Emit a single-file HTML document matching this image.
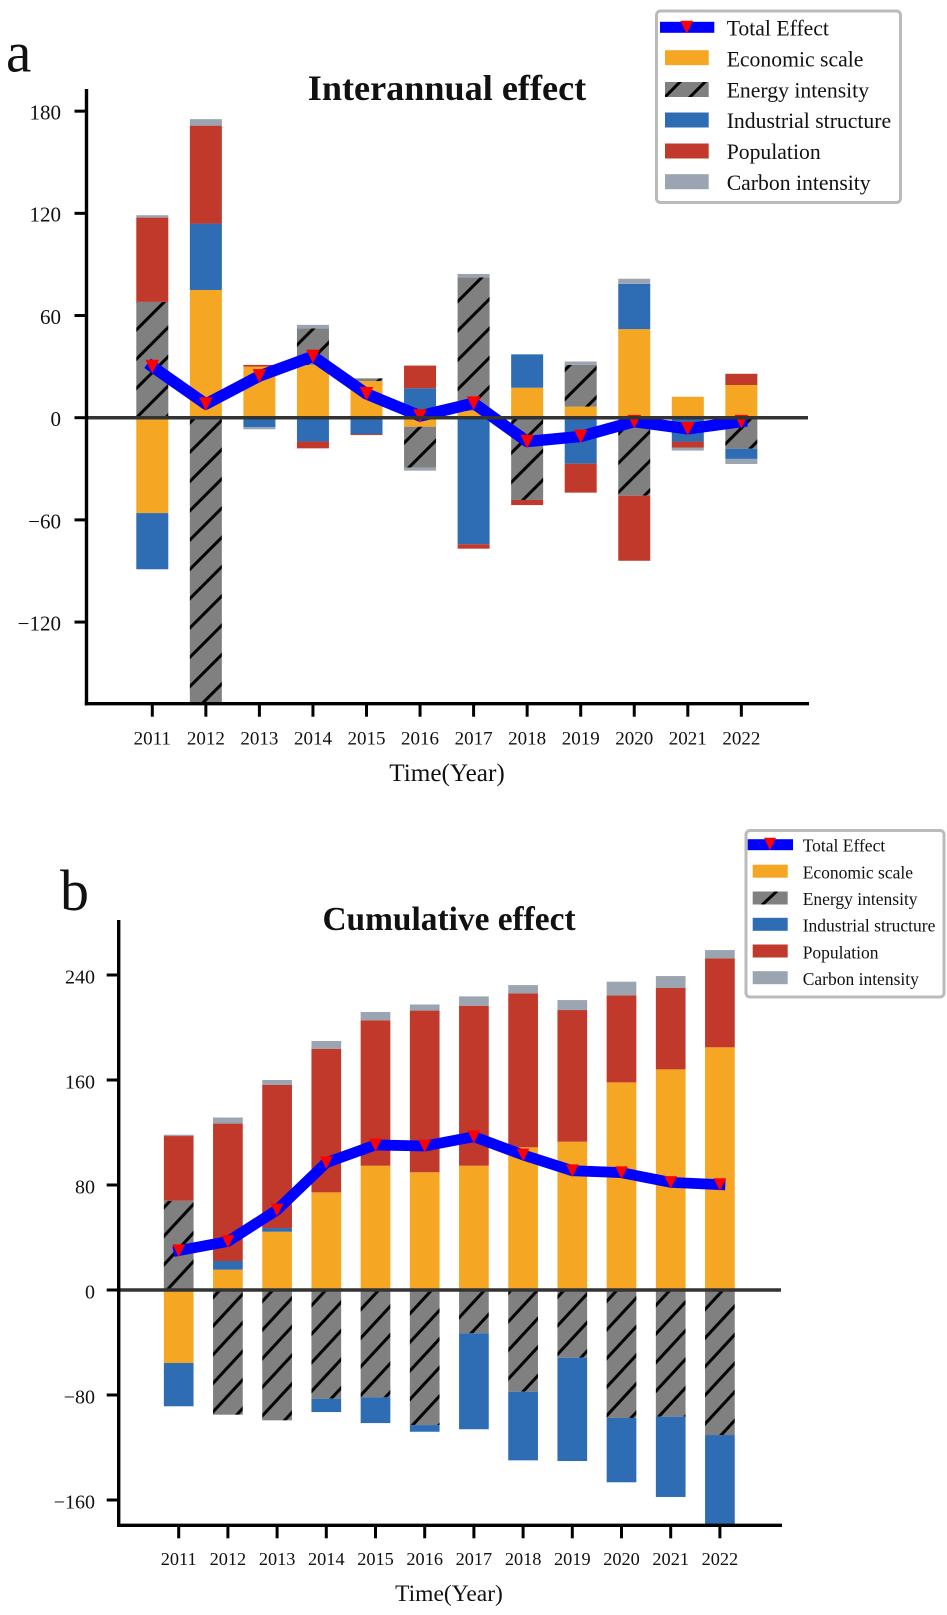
<!DOCTYPE html>
<html lang="en">
<head>
<meta charset="utf-8">
<title>Interannual and cumulative effect</title>
<style>
html,body{margin:0;padding:0;background:#fff;}
svg{display:block;font-family:"Liberation Serif","Times New Roman",serif;fill:#111;}
</style>
</head>
<body>
<svg id="figure" xmlns="http://www.w3.org/2000/svg" width="947" height="1615" viewBox="0 0 947 1615">
  <defs>
    <pattern id="hatch-a" patternUnits="userSpaceOnUse" width="29.3" height="29.3" x="26.7" y="0">
      <rect width="29.3" height="29.3" fill="#808080"/>
      <g stroke="#000" stroke-width="3">
        <line x1="-29.3" y1="58.6" x2="58.6" y2="-29.3"/>
        <line x1="-58.6" y1="58.6" x2="29.3" y2="-29.3"/>
        <line x1="0" y1="58.6" x2="87.9" y2="-29.3"/>
      </g>
    </pattern>
    <pattern id="hatch-b" patternUnits="userSpaceOnUse" width="26.48" height="28.6" x="10.9" y="0">
      <rect width="26.48" height="28.6" fill="#808080"/>
      <g stroke="#000" stroke-width="3">
        <line x1="-26.48" y1="57.2" x2="52.96" y2="-28.6"/>
        <line x1="-52.96" y1="57.2" x2="26.48" y2="-28.6"/>
        <line x1="0" y1="57.2" x2="79.44" y2="-28.6"/>
      </g>
    </pattern>
    <clipPath id="clip-a"><rect x="86" y="85" width="730" height="618"/></clipPath>
    <clipPath id="clip-b"><rect x="118" y="915" width="670" height="609.5"/></clipPath>
    <clipPath id="legend-a-hatch-clip"><rect x="665" y="82" width="43.7" height="15"/></clipPath>
    <clipPath id="legend-b-hatch-clip"><rect x="752.7" y="891.5" width="35" height="13"/></clipPath>
  </defs>

  <text x="6" y="71.5" font-size="57">a</text>
  <text x="447" y="100" font-size="36.2" font-weight="bold" text-anchor="middle">Interannual effect</text>
  <g id="chart-a"></g>
  <text x="447" y="781" font-size="25.2" text-anchor="middle">Time(Year)</text>

  <g>
    <rect x="656.5" y="11" width="244" height="191.5" rx="4" fill="#fff" stroke="#bbbbbb" stroke-width="3"/>
    <rect x="660" y="21.8" width="54.3" height="11" fill="#0000ff"/>
    <polygon points="680.3,20.7 693.1,20.7 686.7,33.5" fill="#ff0000"/>
    <rect x="665" y="50.2" width="43.7" height="15" fill="#f5a623"/>
    <rect x="665" y="82" width="43.7" height="15" fill="#808080"/>
    <g clip-path="url(#legend-a-hatch-clip)" stroke="#000" stroke-width="3">
      <line x1="664" y1="98" x2="681" y2="81"/>
      <line x1="689" y1="98" x2="706" y2="81"/>
    </g>
    <rect x="665" y="112.5" width="43.7" height="15" fill="#2e6db4"/>
    <rect x="665" y="143.5" width="43.7" height="15" fill="#c0392b"/>
    <rect x="665" y="174.2" width="43.7" height="15" fill="#9aa5b1"/>
    <g font-size="21.7">
      <text x="726.7" y="35.5">Total Effect</text>
      <text x="726.7" y="66.5">Economic scale</text>
      <text x="726.7" y="97.3">Energy intensity</text>
      <text x="726.7" y="128.2">Industrial structure</text>
      <text x="726.7" y="159">Population</text>
      <text x="726.7" y="190">Carbon intensity</text>
    </g>
  </g>

  <text x="60" y="910" font-size="58">b</text>
  <text x="449" y="930" font-size="33.4" font-weight="bold" text-anchor="middle">Cumulative effect</text>
  <g id="chart-b"></g>
  <text x="449" y="1601" font-size="23.5" text-anchor="middle">Time(Year)</text>

  <g>
    <rect x="746" y="830.5" width="198" height="166.5" rx="4" fill="#fff" stroke="#bbbbbb" stroke-width="3"/>
    <rect x="747.7" y="839.2" width="45.3" height="11" fill="#0000ff"/>
    <polygon points="764,837.7 776,837.7 770,850.2" fill="#ff0000"/>
    <rect x="752.7" y="864.7" width="35" height="13" fill="#f5a623"/>
    <rect x="752.7" y="891.5" width="35" height="13" fill="#808080"/>
    <g clip-path="url(#legend-b-hatch-clip)" stroke="#000" stroke-width="3">
      <line x1="762" y1="905" x2="777" y2="891"/>
    </g>
    <rect x="752.7" y="917.8" width="35" height="13" fill="#2e6db4"/>
    <rect x="752.7" y="944.5" width="35" height="13" fill="#c0392b"/>
    <rect x="752.7" y="971.2" width="35" height="13" fill="#9aa5b1"/>
    <g font-size="17.5">
      <text x="802.7" y="851.5">Total Effect</text>
      <text x="802.7" y="878.3">Economic scale</text>
      <text x="802.7" y="905">Energy intensity</text>
      <text x="802.7" y="931.7">Industrial structure</text>
      <text x="802.7" y="958.4">Population</text>
      <text x="802.7" y="985">Carbon intensity</text>
    </g>
  </g>
</svg>

<script>
const years = [2011,2012,2013,2014,2015,2016,2017,2018,2019,2020,2021,2022];

const aEconomic   = [-56, 75, 30, 31, 21.5, -5.3, 4, 17.6, 6.5, 52, 12.3, 19.2];
const aEnergy     = [68, -168, 0, 21.5, 1.6, -24, 78.4, -48.3, 24.5, -45.8, 0, -18.2];
const aIndustrial = [-33, 39, -5.6, -14, -9.6, 17.3, -74.3, 19.6, -27, 26.6, -14, -6];
const aPopulation = [49.5, 57.5, 1, -4, -0.6, 13.3, -2.6, -3, -17, -38.2, -3.5, 6.6];
const aCarbon     = [1.4, 3.8, -1.2, 2, 0, -1.8, 2, 0, 2, 3, -1.8, -3];
const aTotal      = [30, 8, 24.5, 36, 14, 1, 8.5, -14, -11, -2.3, -6.5, -2.3];
const aTicks      = [180, 120, 60, 0, -60, -120];
const aTickLabels = ["180", "120", "60", "0", "\u221260", "\u2212120"];

const bEconomic   = [-55.6, 15.5, 44.4, 74.4, 94.7, 89.7, 94.7, 108.7, 113, 158.2, 168.1, 184.9];
const bEnergy     = [68, -95, -99.3, -82.8, -81.8, -102.9, -33, -77.5, -51.6, -97.5, -96.5, -110.5];
const bIndustrial = [-33, 6.6, 2.8, -10.2, -19.6, -5.1, -73.1, -52.3, -78.7, -49, -61.2, -72];
const bPopulation = [49.3, 104.7, 109, 109.4, 110.8, 123.2, 121.9, 117.3, 100.3, 66.3, 62, 67.8];
const bCarbon     = [1, 4.6, 3.8, 5.9, 6.3, 4.6, 7.1, 6.3, 7.6, 10.4, 9.1, 6.3];
const bTotal      = [30, 37, 61, 97, 110.5, 109.7, 116.8, 102.9, 90.9, 89.4, 82, 80.3];
const bTicks      = [240, 160, 80, 0, -80, -160];
const bTickLabels = ["240", "160", "80", "0", "\u221280", "\u2212160"];

const NS = "http://www.w3.org/2000/svg";
function make(parent, tag, attrs, text) {
  const el = document.createElementNS(NS, tag);
  for (const k in attrs) el.setAttribute(k, attrs[k]);
  if (text !== undefined) el.textContent = text;
  parent.appendChild(el);
  return el;
}

function drawChart(root, layout, series, total, ticks, tickLabels) {
  const xPos = i => layout.x0 + i * layout.dx;
  const yPos = v => layout.y0 - v * layout.k;

  const bars = make(root, "g", {"clip-path": "url(#" + layout.clip + ")"});
  
  

  years.forEach((year, i) => {
    let up = 0, down = 0;
    series.forEach(s => {
      const v = s.values[i];
      if (!v) return;
      const start = v > 0 ? up : down;
      const end = start + v;
      if (v > 0) up = end; else down = end;
      const top = Math.min(yPos(start), yPos(end));
      const h = Math.abs(yPos(start) - yPos(end));
      const fill = s.key === "energy" ? "url(#" + layout.hatch + ")" : s.color;
      const bar = make(bars, "rect", {x: xPos(i) - layout.bw / 2, y: top, width: layout.bw, height: h, fill: fill});
      
      
    });
  });

  const pts = total.map((v, i) => xPos(i) + "," + yPos(v)).join(" ");
  const line = make(root, "polyline", {points: pts, fill: "none", stroke: "#0000ff", "stroke-width": layout.lw, "stroke-linejoin": "round", "stroke-linecap": "square"});
  
  

  total.forEach((v, i) => {
    const cx = xPos(i), cy = yPos(v), m = layout.ms;
    const p = make(root, "polygon", {points: (cx - m) + "," + (cy - m) + " " + (cx + m) + "," + (cy - m) + " " + cx + "," + (cy + m), fill: "#ff0000"});
    
    
  });

  const zero = make(root, "line", {x1: layout.left, x2: layout.right - 1, y1: yPos(0), y2: yPos(0), stroke: "#333", "stroke-width": 3.5});
  
  

  const ySpine = make(root, "line", {x1: layout.left, x2: layout.left, y1: layout.top, y2: layout.bottom + 1.7, stroke: "#000", "stroke-width": 3.4});
  
  
  const xSpine = make(root, "line", {x1: layout.left - 1.7, x2: layout.right, y1: layout.bottom, y2: layout.bottom, stroke: "#000", "stroke-width": 3.4});
  
  

  ticks.forEach((t, i) => {
    const y = yPos(t);
    const mark = make(root, "line", {x1: layout.left - 12, x2: layout.left, y1: y, y2: y, stroke: "#000", "stroke-width": 3});
    
    
    const lab = make(root, "text", {x: layout.labelRight, y: y + 8.4, "font-size": layout.yFont, "text-anchor": "end"}, tickLabels[i]);
    
    
  });

  years.forEach((year, i) => {
    const x = xPos(i);
    const mark = make(root, "line", {x1: x, x2: x, y1: layout.bottom, y2: layout.bottom + 13, stroke: "#000", "stroke-width": 3});
    
    
    const lab = make(root, "text", {x: x, y: layout.xLabelY, "font-size": layout.xFont, "text-anchor": "middle"}, year);
    
    
  });
}

const colors = {economic: "#f5a623", energy: "#808080", industrial: "#2e6db4", population: "#c0392b", carbon: "#9aa5b1"};

drawChart(
  document.getElementById("chart-a"),
  {x0: 152.3, dx: 53.55, bw: 32, y0: 417.7, k: 1.703, left: 86.5, right: 809, top: 89, bottom: 703.7,
   lw: 11.5, ms: 6.8, clip: "clip-a", hatch: "hatch-a", labelRight: 61, yFont: 21, xFont: 19, xLabelY: 744.3},
  [
    {key: "economic", values: aEconomic, color: colors.economic},
    {key: "energy", values: aEnergy, color: colors.energy},
    {key: "industrial", values: aIndustrial, color: colors.industrial},
    {key: "population", values: aPopulation, color: colors.population},
    {key: "carbon", values: aCarbon, color: colors.carbon}
  ],
  aTotal, aTicks, aTickLabels
);

drawChart(
  document.getElementById("chart-b"),
  {x0: 178.7, dx: 49.2, bw: 29.7, y0: 1290, k: 1.3125, left: 118.7, right: 782, top: 920, bottom: 1525.3,
   lw: 10.8, ms: 6.3, clip: "clip-b", hatch: "hatch-b", labelRight: 95, yFont: 20, xFont: 18.3, xLabelY: 1565},
  [
    {key: "economic", values: bEconomic, color: colors.economic},
    {key: "energy", values: bEnergy, color: colors.energy},
    {key: "industrial", values: bIndustrial, color: colors.industrial},
    {key: "population", values: bPopulation, color: colors.population},
    {key: "carbon", values: bCarbon, color: colors.carbon}
  ],
  bTotal, bTicks, bTickLabels
);
</script>
</body>
</html>
